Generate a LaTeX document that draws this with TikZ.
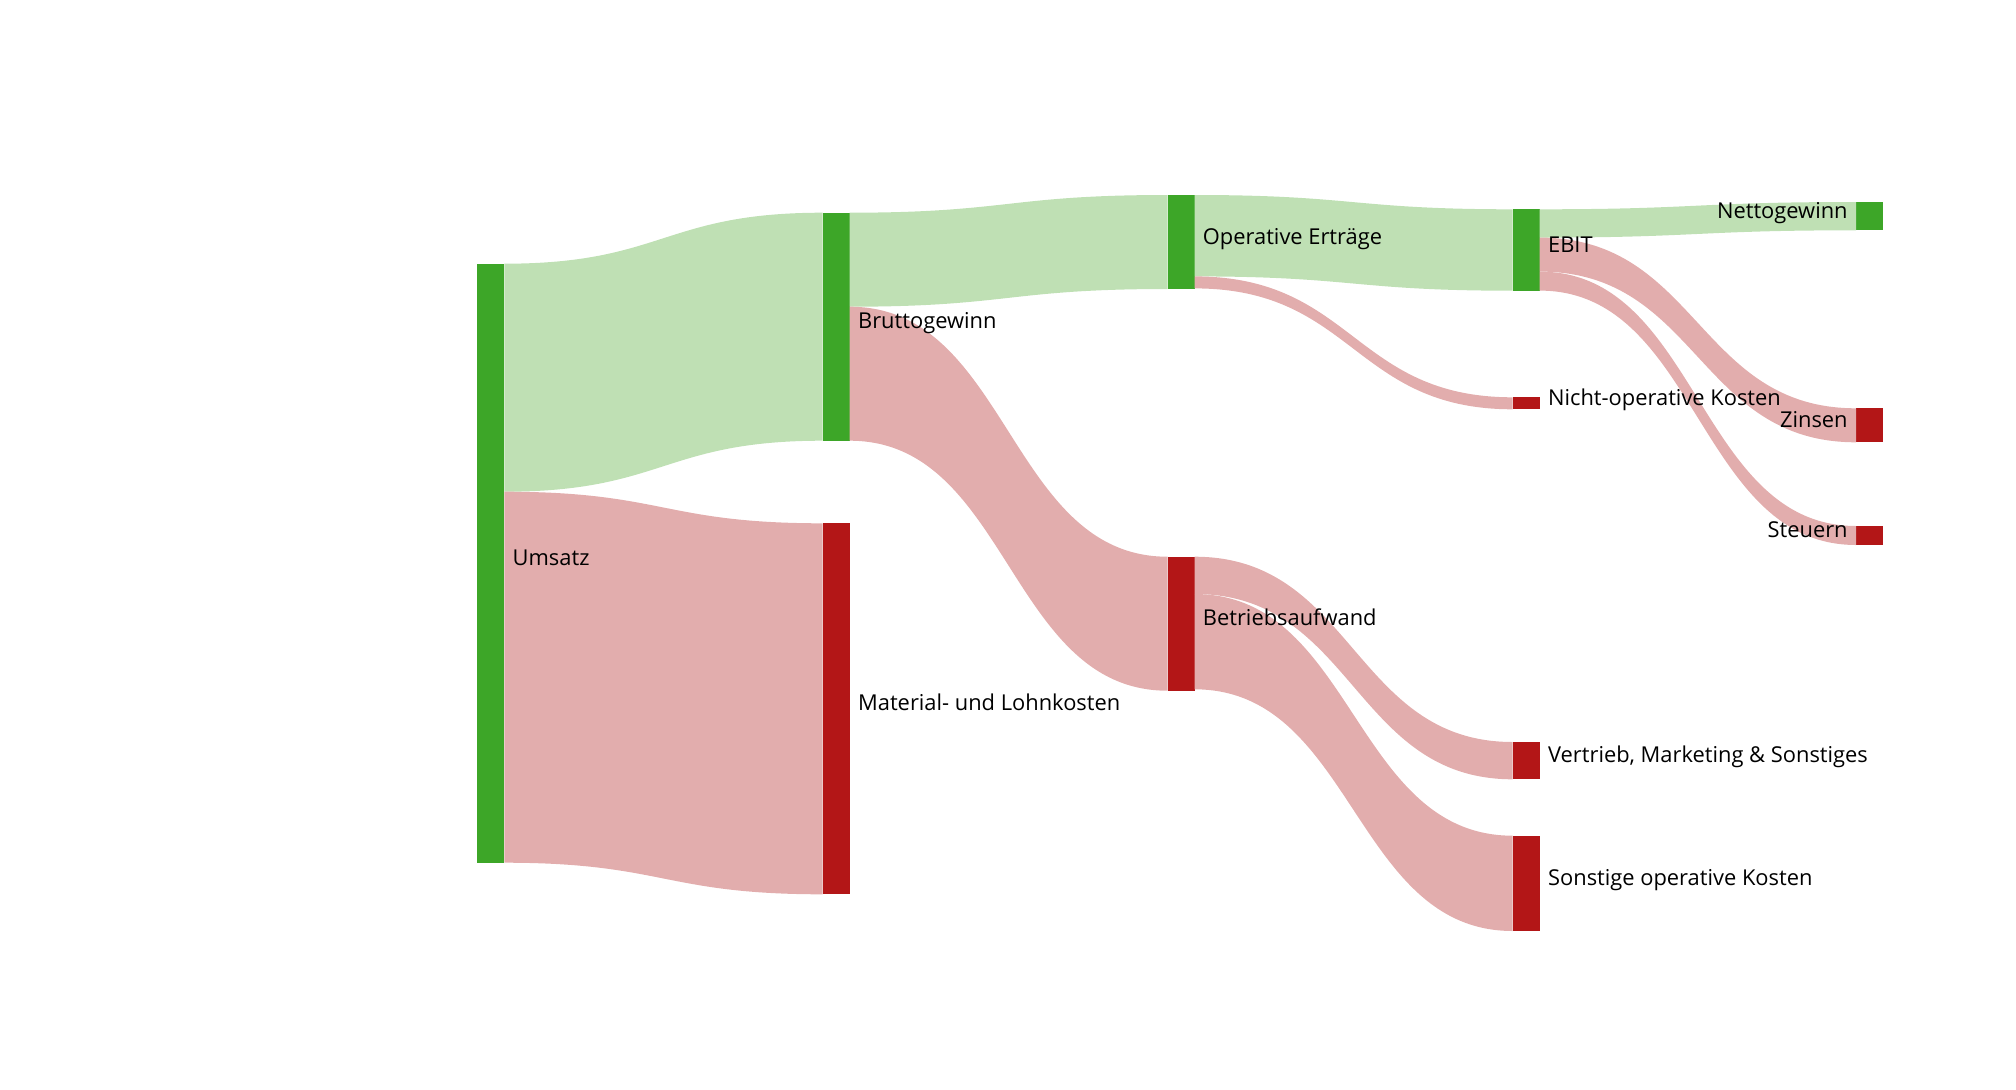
\documentclass[tikz,border=0pt]{standalone}
\usepackage{fontspec}
\setmainfont{Open Sans}
\usetikzlibrary{calc}
\definecolor{gbar}{HTML}{3DA628}
\definecolor{rbar}{HTML}{B31617}
\definecolor{glink}{HTML}{BFE0B4}
\definecolor{rlink}{HTML}{E2ADAD}
% #1 source node, #2 offset from its top (px), #3 target node, #4 offset from its top, #5 thickness, #6 colour
\newcommand{\sankeyband}[6]{%
  \fill[#6] let \p1=($(#1.north east)+(0,#2)$),
               \p2=($(#3.north west)+(0,#4)$),
               \p3=($(#1.north east)+(0,#2+#5)$),
               \p4=($(#3.north west)+(0,#4+#5)$)
   in (\x1,\y1) .. controls ({(\x1+\x2)/2},\y1) and ({(\x1+\x2)/2},\y2) .. (\x2,\y2)
      -- (\x4,\y4) .. controls ({(\x1+\x2)/2},\y4) and ({(\x1+\x2)/2},\y3) .. (\x3,\y3) -- cycle;}
\tikzset{
  barnode/.style={rectangle, inner sep=0pt, outer sep=0pt, draw=none,
    minimum width=27*0.75pt, anchor=north west},
  barh/.style={minimum height=#1*0.75pt},
  lbl/.style={inner sep=0pt, outer sep=0pt, text=black,
    font=\fontsize{16.4}{19}\selectfont},
}
\begin{document}
\begin{tikzpicture}[x=0.75pt,y=-0.75pt]
\useasboundingbox (0,0) rectangle (2016,1089);
% bars
\node[barnode, barh=599.6, fill=gbar] (umsatz) at (477.3,263.7) {};
\node[barnode, barh=228.3, fill=gbar] (brutto) at (822.7,212.7) {};
\node[barnode, barh=371,   fill=rbar] (mlk)    at (822.7,523.3) {};
\node[barnode, barh=94,    fill=gbar] (oe)     at (1167.5,195) {};
\node[barnode, barh=134,   fill=rbar] (ba)     at (1167.5,556.7) {};
\node[barnode, barh=81.4,  fill=gbar] (ebit)   at (1512.7,209.3) {};
\node[barnode, barh=12,    fill=rbar] (nok)    at (1512.7,397.3) {};
\node[barnode, barh=37.3,  fill=rbar] (vert)   at (1512.7,742) {};
\node[barnode, barh=95.3,  fill=rbar] (sonst)  at (1512.7,835.7) {};
\node[barnode, barh=28.3,  fill=gbar] (netto)  at (1856,202) {};
\node[barnode, barh=34,    fill=rbar] (zins)   at (1856,408.3) {};
\node[barnode, barh=19,    fill=rbar] (steuer) at (1856,526) {};
% links
\sankeyband{umsatz}{0}{brutto}{0}{228}{glink}
\sankeyband{umsatz}{228}{mlk}{0}{371}{rlink}
\sankeyband{brutto}{0}{oe}{0}{94}{glink}
\sankeyband{brutto}{94}{ba}{0}{134}{rlink}
\sankeyband{oe}{0}{ebit}{0}{81.4}{glink}
\sankeyband{oe}{81.4}{nok}{0}{12}{rlink}
\sankeyband{ebit}{0}{netto}{0}{28.3}{glink}
\sankeyband{ebit}{28.3}{zins}{0}{34}{rlink}
\sankeyband{ebit}{62.3}{steuer}{0}{19}{rlink}
\sankeyband{ba}{0}{vert}{0}{37.3}{rlink}
\sankeyband{ba}{37.3}{sonst}{0}{95.3}{rlink}
% labels
\node[lbl, anchor=base west] (lumsatz) at ($(umsatz.east)+(8.4,2)$) {Umsatz};
\node[lbl, anchor=base west] (lbrutto) at ($(brutto.east)+(8.4,2)$) {Bruttogewinn};
\node[lbl, anchor=base west] (lmlk)    at ($(mlk.east)+(8.4,2)$) {Material- und Lohnkosten};
\node[lbl, anchor=base west] (loe)     at ($(oe.east)+(8.4,2)$) {Operative Erträge};
\node[lbl, anchor=base west] (lba)     at ($(ba.east)+(8.4,2)$) {Betriebsaufwand};
\node[lbl, anchor=base west] (lebit)   at ($(ebit.east)+(8.4,2)$) {EBIT};
\node[lbl, anchor=base west] (lnok)    at ($(nok.east)+(8.4,2)$) {Nicht-operative Kosten};
\node[lbl, anchor=base west] (lvert)   at ($(vert.east)+(8.4,2)$) {Vertrieb, Marketing \& Sonstiges};
\node[lbl, anchor=base west] (lsonst)  at ($(sonst.east)+(8.4,2)$) {Sonstige operative Kosten};
\node[lbl, anchor=base east] (lnetto)  at ($(netto.west)+(-8.4,2)$) {Nettogewinn};
\node[lbl, anchor=base east] (lzins)   at ($(zins.west)+(-8.4,2)$) {Zinsen};
\node[lbl, anchor=base east] (lsteuer) at ($(steuer.west)+(-8.4,2)$) {Steuern};
\end{tikzpicture}
\end{document}
